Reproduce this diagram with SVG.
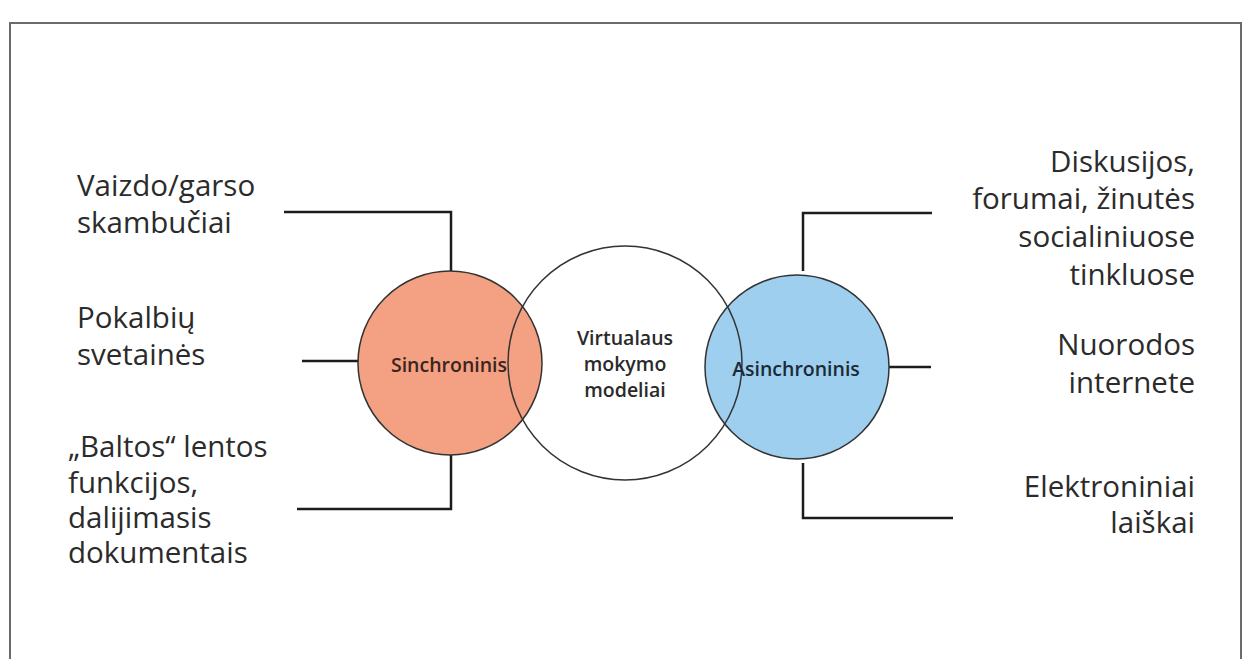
<svg xmlns="http://www.w3.org/2000/svg" width="1246" height="659" viewBox="0 0 1246 659">
  <style>
    .lbl { font-family: "Open Sans", "Liberation Sans", sans-serif; font-size: 29.5px; fill: #2b2b2b; }
    .r { text-anchor: end; }
    .cl { font-family: "Open Sans", "Liberation Sans", sans-serif; font-size: 19.5px; font-weight: 600; text-anchor: middle; }
    .conn { fill: none; stroke: #1c1c1c; stroke-width: 2.5; }
    .circ { stroke: #333333; stroke-width: 1.5; }
  </style>
  <rect x="0" y="0" width="1246" height="659" fill="#ffffff"/>
  <rect id="frame" x="10" y="23" width="1231" height="700" fill="none" stroke="#6b6b6b" stroke-width="2"/>

  <g id="connectors">
    <polyline class="conn" points="284,212 451,212 451,271"/>
    <polyline class="conn" points="302,361 359,361"/>
    <polyline class="conn" points="451,455 451,509 297,509"/>
    <polyline class="conn" points="803,271 803,213 932,213"/>
    <polyline class="conn" points="887,367 931,367"/>
    <polyline class="conn" points="803,463 803,518 953,518"/>
  </g>

  <g id="sinchroninis">
    <circle class="circ" cx="450" cy="363" r="92" fill="#f4a083"/>
  </g>
  <g id="asinchroninis">
    <circle class="circ" cx="797" cy="367" r="92" fill="#9ecfef"/>
  </g>
  <g id="virtualaus">
    <circle class="circ" cx="625" cy="363" r="117" fill="none"/>
    <text class="cl" x="625" y="345" fill="#2a2a2a">Virtualaus</text>
    <text class="cl" x="625" y="371" fill="#2a2a2a">mokymo</text>
    <text class="cl" x="625" y="397" fill="#2a2a2a">modeliai</text>
  </g>
  <g id="sinchroninis-label">
    <text class="cl" x="449" y="372" fill="#3a2520">Sinchroninis</text>
  </g>
  <g id="asinchroninis-label">
    <text class="cl" x="796" y="376" fill="#1c2a36">Asinchroninis</text>
  </g>

  <g id="vaizdo">
    <text class="lbl" x="77" y="196">Vaizdo/garso</text>
    <text class="lbl" x="77" y="233">skambučiai</text>
  </g>
  <g id="pokalbiu">
    <text class="lbl" x="77" y="328">Pokalbių</text>
    <text class="lbl" x="77" y="365">svetainės</text>
  </g>
  <g id="baltos">
    <text class="lbl" x="68" y="457">„Baltos“ lentos</text>
    <text class="lbl" x="68" y="493">funkcijos,</text>
    <text class="lbl" x="68" y="528">dalijimasis</text>
    <text class="lbl" x="68" y="563">dokumentais</text>
  </g>

  <g id="diskusijos">
    <text class="lbl r" x="1195" y="172">Diskusijos,</text>
    <text class="lbl r" x="1195" y="209">forumai, žinutės</text>
    <text class="lbl r" x="1195" y="247">socialiniuose</text>
    <text class="lbl r" x="1195" y="285">tinkluose</text>
  </g>
  <g id="nuorodos">
    <text class="lbl r" x="1195" y="355">Nuorodos</text>
    <text class="lbl r" x="1195" y="393">internete</text>
  </g>
  <g id="elektroniniai">
    <text class="lbl r" x="1195" y="497">Elektroniniai</text>
    <text class="lbl r" x="1195" y="533">laiškai</text>
  </g>
</svg>
